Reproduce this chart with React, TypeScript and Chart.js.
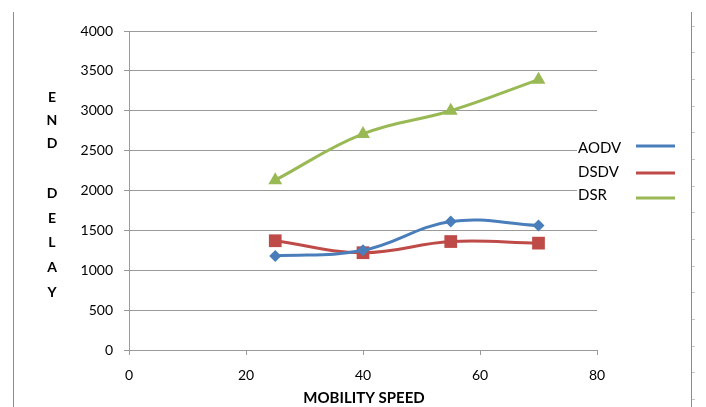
import React, { useEffect, useRef } from "react";
import { Chart, registerables } from "chart.js";

Chart.register(...registerables);

const speeds = [25, 40, 55, 70];
const aodv = [1180, 1250, 1610, 1560];
const dsdv = [1370, 1220, 1360, 1340];
const dsr = [2130, 2710, 3000, 3390];
const seriesNames = ["AODV", "DSDV", "DSR"];
const seriesColors = ["#4a7ebb", "#be4b48", "#98b954"];
const yTitleLetters = ["E", "N", "D", "", "D", "E", "L", "A", "Y"];
const xTitle = "MOBILITY SPEED";

const FONT = "Lato, 'Open Sans', sans-serif";

const decorPlugin = {
  id: "decor",
  afterDraw(chart: any) {
    const ctx = chart.ctx;
    ctx.save();
    // page border lines
    ctx.strokeStyle = "#8c8c8c";
    ctx.lineWidth = 1;
    ctx.beginPath();
    ctx.moveTo(13.5, 12);
    ctx.lineTo(13.5, 407);
    ctx.moveTo(691.5, 12);
    ctx.lineTo(691.5, 407);
    ctx.stroke();
    ctx.strokeStyle = "#c8c8c8";
    ctx.beginPath();
    for (let i = 0; i < 15; i++) {
      const y = Math.round(25.7 + i * 26.67) + 0.5;
      ctx.moveTo(692, y);
      ctx.lineTo(695, y);
    }
    ctx.stroke();

    // y title stacked letters
    ctx.fillStyle = "#000";
    ctx.font = `bold 14px ${FONT}`;
    ctx.textAlign = "center";
    ctx.textBaseline = "middle";
    const ys = [97, 120, 143, 168, 193, 218, 242, 267, 292];
    yTitleLetters.forEach((l, i) => {
      if (l) ctx.fillText(l, 52, ys[i]);
    });

    // x title
    ctx.font = `bold 15px ${FONT}`;
    ctx.fillText(xTitle, 364, 398);

    // legend
    ctx.fillStyle = "#fff";
    ctx.fillRect(577, 136, 104, 72);
    ctx.font = `15px ${FONT}`;
    ctx.textAlign = "left";
    const textY = [148, 172, 195];
    const lineY = [146, 173, 198];
    seriesNames.forEach((n, i) => {
      ctx.fillStyle = "#000";
      ctx.fillText(n, 578, textY[i]);
      ctx.strokeStyle = seriesColors[i];
      ctx.lineWidth = 3;
      ctx.beginPath();
      ctx.moveTo(636, lineY[i]);
      ctx.lineTo(675, lineY[i]);
      ctx.stroke();
    });
    ctx.restore();
  },
};

export default function App() {
  const ref = useRef<HTMLCanvasElement>(null);
  useEffect(() => {
    const mk = (vals: number[]) => speeds.map((x, i) => ({ x, y: vals[i] }));
    const styles = ["rectRot", "rect", "triangle"];
    const radii = [6, 9, 8];
    const data = [aodv, dsdv, dsr];
    const chart = new Chart(ref.current as HTMLCanvasElement, {
      type: "line",
      data: {
        datasets: data.map((d, i) => ({
          label: seriesNames[i],
          data: mk(d),
          borderColor: seriesColors[i],
          backgroundColor: seriesColors[i],
          borderWidth: 3,
          pointStyle: styles[i] as any,
          pointRadius: radii[i],
          pointBorderWidth: 0,
          tension: 0.4,
        })),
      },
      options: {
        responsive: false,
        animation: false,
        devicePixelRatio: 1,
        layout: { padding: { left: 0, top: 31, right: 109, bottom: 0 } },
        plugins: { legend: { display: false }, tooltip: { enabled: false } },
        scales: {
          x: {
            type: "linear",
            min: 0,
            max: 80,
            ticks: {
              stepSize: 20,
              color: "#000",
              font: { family: FONT, size: 14 },
              padding: 12,
              callback: (v: any) => String(v),
            },
            grid: { drawOnChartArea: false, color: "#9a9a9a", tickLength: 5 },
            border: { color: "#9a9a9a" },
            afterFit: (s: any) => {
              s.height = 57;
            },
          },
          y: {
            min: 0,
            max: 4000,
            ticks: {
              stepSize: 500,
              color: "#000",
              font: { family: FONT, size: 14 },
              padding: 11,
              callback: (v: any) => String(v),
            },
            grid: { color: "#9a9a9a", tickLength: 5 },
            border: { color: "#9a9a9a" },
            afterFit: (s: any) => {
              s.width = 129;
            },
          },
        },
      },
      plugins: [decorPlugin],
    });
    return () => chart.destroy();
  }, []);
  return (
    <div style={{ position: "absolute", left: 0, top: 0, width: 706, height: 407, background: "#fff" }}>
      <canvas ref={ref} width={706} height={407} />
    </div>
  );
}
